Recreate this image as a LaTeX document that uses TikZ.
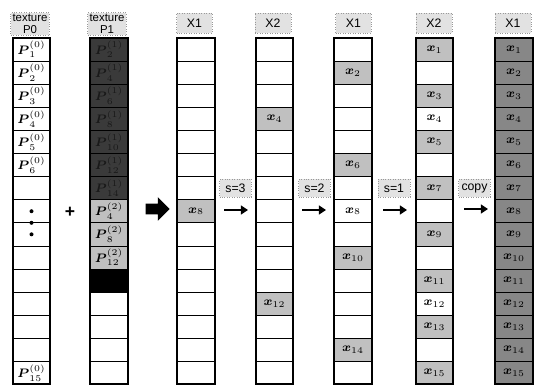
\documentclass[tikz,border=0pt]{standalone}
\usepackage{amsmath,amssymb}
\usepackage{fontspec}
\setsansfont{Liberation Sans}
\definecolor{hdgray}{RGB}{226,226,226}
\definecolor{cellgray}{RGB}{192,192,192}
\definecolor{darkcell}{RGB}{58,58,58}
\definecolor{copycell}{RGB}{135,135,135}
\usetikzlibrary{arrows.meta,positioning,shapes.arrows}

\begin{document}
\begin{tikzpicture}[x=0.02cm,y=-0.02cm,font=\scriptsize,
  cell/.style={draw,inner sep=0pt,outer sep=0pt,minimum width=0.75cm,minimum height=0.462cm},
  litecell/.style={cell,fill=cellgray},
  darkbox/.style={cell,fill=darkcell,text=black!90},
  copybox/.style={cell,fill=copycell},
  hdbox/.style={draw=gray!80,densely dotted,fill=hdgray,inner sep=1pt,align=center,font=\sffamily\fontsize{6.5}{6.8}\selectfont,minimum width=0.7cm},
  xbox/.style={draw=gray!80,densely dotted,fill=hdgray,inner sep=1pt,font=\sffamily\scriptsize,minimum width=0.72cm,minimum height=0.4cm},
  sbox/.style={draw=gray!80,densely dotted,fill=hdgray,inner sep=1pt,font=\sffamily\scriptsize,minimum width=0.64cm,minimum height=0.36cm},
  arr/.style={-{Triangle[length=4pt,width=5pt]},line width=1.2pt}]
  \useasboundingbox (0,0) rectangle (535,385);
  % empty grid of the seven textures
  \foreach \c/\cx in {1/31.5,2/109,3/196,4/274.5,5/353,6/434.5,7/514}{
    \foreach \r in {1,...,15}
      \node[cell] (c\c r\r) at (\cx,{38+23.1*(\r-0.5)}) {};
  }
  % headers
  \node[hdbox] (h1) at (30,24) {texture\\P0};
  \node[hdbox] (h2) at (107,24) {texture\\P1};
  \node[xbox] (h3) at (194.5,23) {X1};
  \node[xbox] (h4) at (273,23) {X2};
  \node[xbox] (h5) at (353.5,23) {X1};
  \node[xbox] (h6) at (434,23) {X2};
  \node[xbox] (h7) at (513,23) {X1};
  % texture P0
  \foreach \r in {1,...,6}
    \node at (c1r\r) {$\boldsymbol{P}_{\r}^{(0)}$};
  \node at (c1r15) {$\boldsymbol{P}_{15}^{(0)}$};
  \fill (c1r8) circle (2);
  \fill (c1r8.south) circle (2);
  \fill (c1r9) circle (2);
  \node[font=\normalsize\bfseries\sffamily] (plus) at (70,212) {+};
  % texture P1
  \foreach \r [evaluate=\r as \i using int(2*\r)] in {1,...,7}
    \node[darkbox] (p1\r) at (c2r\r) {$\boldsymbol{P}_{\i}^{(1)}$};
  \node[litecell] (p24) at (c2r8) {$\boldsymbol{P}_{4}^{(2)}$};
  \node[litecell] (p28) at (c2r9) {$\boldsymbol{P}_{8}^{(2)}$};
  \node[litecell] (p212) at (c2r10) {$\boldsymbol{P}_{12}^{(2)}$};
  \node[cell,fill=black] (pend) at (c2r11) {};
  \node[single arrow,fill=black,inner sep=0.1cm,single arrow head extend=0.13cm,minimum height=0.48cm] (bigarr) at (155,209) {};
  % X1, s=3
  \node[litecell] (xa8) at (c3r8) {$\boldsymbol{x}_8$};
  \node[sbox] (s3) at (235.5,188) {s=3};
  \coordinate (s3a) at (224,210);
  \coordinate (s3b) at (248,210);
  \draw[arr] (s3a) -- (s3b);
  % X2, s=2
  \node[litecell] (xb4) at (c4r4) {$\boldsymbol{x}_4$};
  \node[litecell] (xb12) at (c4r12) {$\boldsymbol{x}_{12}$};
  \node[sbox] (s2) at (314.5,188) {s=2};
  \coordinate (s2a) at (302,210);
  \coordinate (s2b) at (326,210);
  \draw[arr] (s2a) -- (s2b);
  % X1, s=1
  \foreach \r in {2,6,10,14}
    \node[litecell] (xc\r) at (c5r\r) {$\boldsymbol{x}_{\r}$};
  \node (xc8) at (c5r8) {$\boldsymbol{x}_8$};
  \node[sbox] (s1) at (394,188) {s=1};
  \coordinate (s1a) at (383,210);
  \coordinate (s1b) at (407,210);
  \draw[arr] (s1a) -- (s1b);
  % X2, copy
  \foreach \r in {1,3,5,7,9,11,13,15}
    \node[litecell] (xd\r) at (c6r\r) {$\boldsymbol{x}_{\r}$};
  \node (xd4) at (c6r4) {$\boldsymbol{x}_4$};
  \node (xd12) at (c6r12) {$\boldsymbol{x}_{12}$};
  \node[sbox] (cp) at (474.5,188) {copy};
  \coordinate (cpa) at (464,209);
  \coordinate (cpb) at (488,209);
  \draw[arr] (cpa) -- (cpb);
  % final X1
  \foreach \r in {1,...,15}
    \node[copybox] (xe\r) at (c7r\r) {$\boldsymbol{x}_{\r}$};
  % thick outlines
  \foreach \c in {1,...,7}
    \draw[line width=1.3pt] (c\c r1.north west) rectangle (c\c r15.south east);
\end{tikzpicture}
\end{document}
